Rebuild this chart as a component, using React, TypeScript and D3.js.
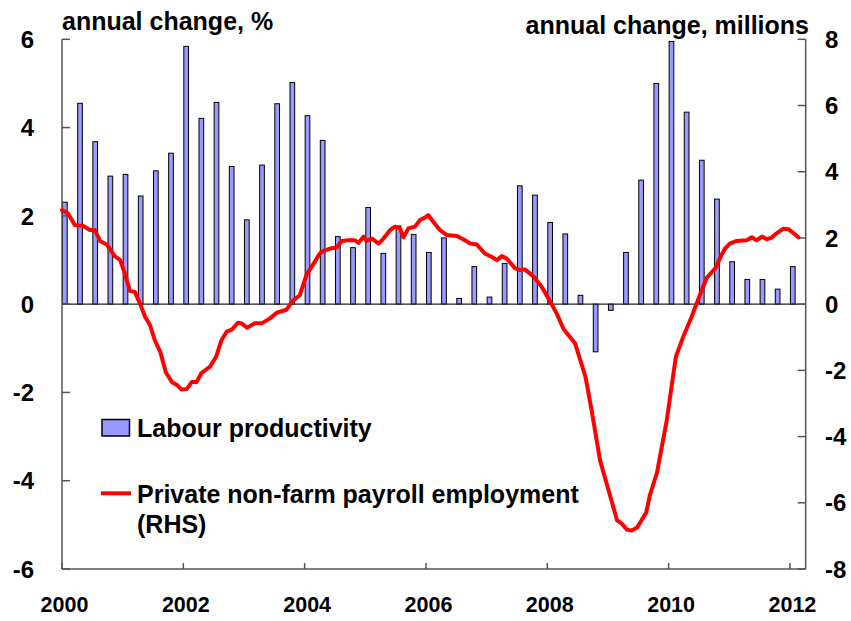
import React from "react";
import * as d3 from "d3";

// Quarterly labour productivity (annual % change), 2000Q1 .. 2012Q1
const productivityStart = 2000;
const productivity: number[] = [
  2.31, 4.55, 3.68, 2.9,
  2.94, 2.45, 3.02, 3.42,
  5.84, 4.21, 4.57, 3.12,
  1.91, 3.15, 4.54, 5.02,
  4.27, 3.71, 1.53, 1.28,
  2.19, 1.15, 1.77, 1.58,
  1.17, 1.5, 0.13, 0.85,
  0.16, 0.92, 2.68, 2.47,
  1.85, 1.59, 0.2, -1.08,
  -0.14, 1.17, 2.81, 5.0,
  5.95, 4.35, 3.26, 2.38,
  0.96, 0.56, 0.56, 0.34,
  0.85,
];

// Private non-farm payroll employment, annual change in millions (RHS)
const employment: [number, number][] = [
  [2000.0, 2.84], [2000.1, 2.74], [2000.21, 2.39], [2000.35, 2.36], [2000.46, 2.24],
  [2000.54, 2.24], [2000.63, 1.9], [2000.74, 1.8], [2000.87, 1.45], [2000.96, 1.33],
  [2001.04, 0.9], [2001.12, 0.4], [2001.2, 0.37], [2001.29, 0.0], [2001.37, -0.38],
  [2001.45, -0.63], [2001.53, -1.09], [2001.62, -1.44], [2001.71, -2.05], [2001.81, -2.35],
  [2001.9, -2.45], [2001.97, -2.58], [2002.06, -2.56], [2002.14, -2.35], [2002.22, -2.35],
  [2002.3, -2.08], [2002.44, -1.89], [2002.54, -1.59], [2002.63, -1.09], [2002.72, -0.82],
  [2002.8, -0.77], [2002.9, -0.56], [2002.96, -0.58], [2003.05, -0.71], [2003.18, -0.58],
  [2003.29, -0.58], [2003.43, -0.43], [2003.54, -0.26], [2003.7, -0.17], [2003.79, 0.07],
  [2003.92, 0.27], [2004.03, 0.88], [2004.14, 1.2], [2004.25, 1.53], [2004.31, 1.61],
  [2004.42, 1.68], [2004.53, 1.71], [2004.61, 1.91], [2004.72, 1.93], [2004.83, 1.93],
  [2004.89, 1.85], [2004.97, 2.04], [2005.02, 1.91], [2005.11, 1.98], [2005.22, 1.83],
  [2005.3, 1.98], [2005.41, 2.24], [2005.49, 2.34], [2005.57, 2.29], [2005.63, 2.02],
  [2005.71, 2.29], [2005.82, 2.34], [2005.9, 2.54], [2005.99, 2.62], [2006.04, 2.69],
  [2006.12, 2.49], [2006.23, 2.24], [2006.34, 2.09], [2006.51, 2.06], [2006.62, 1.95],
  [2006.73, 1.83], [2006.84, 1.8], [2006.97, 1.53], [2007.08, 1.43], [2007.17, 1.33],
  [2007.25, 1.45], [2007.33, 1.38], [2007.47, 1.08], [2007.55, 1.03], [2007.63, 1.05],
  [2007.77, 0.84], [2007.91, 0.52], [2008.05, 0.07], [2008.16, -0.3], [2008.27, -0.76],
  [2008.46, -1.19], [2008.63, -2.2], [2008.73, -3.2], [2008.87, -4.72], [2009.01, -5.62],
  [2009.15, -6.53], [2009.23, -6.63], [2009.31, -6.81], [2009.39, -6.84], [2009.48, -6.75],
  [2009.63, -6.3], [2009.69, -5.78], [2009.81, -5.08], [2009.97, -3.5], [2010.12, -1.59],
  [2010.24, -0.99], [2010.38, -0.38], [2010.52, 0.3], [2010.63, 0.8], [2010.77, 1.08],
  [2010.85, 1.4], [2010.93, 1.68], [2011.01, 1.83], [2011.12, 1.91], [2011.29, 1.93],
  [2011.37, 2.02], [2011.45, 1.93], [2011.54, 2.04], [2011.62, 1.96], [2011.7, 2.01],
  [2011.78, 2.14], [2011.89, 2.28], [2011.98, 2.26], [2012.06, 2.14], [2012.14, 2.02],
];

const xTickYears = [2000, 2002, 2004, 2006, 2008, 2010, 2012];
const leftTicks = [-6, -4, -2, 0, 2, 4, 6];
const rightTicks = [-8, -6, -4, -2, 0, 2, 4, 6, 8];

const leftTitle = "annual change, %";
const rightTitle = "annual change, millions";
const legendBar = "Labour productivity";
const legendLine1 = "Private non-farm payroll employment";
const legendLine2 = "(RHS)";

const W = 851;
const H = 621;
const M = { left: 62, right: 805.7, top: 39.3, bottom: 569 };
const FONT = "'Liberation Sans', Arial, sans-serif";
const AXIS = "#555";
const BAR = "#9999ff";

export default function App() {
  const x = d3.scaleLinear().domain([2000, 2012.26]).range([M.left, M.right]);
  const yL = d3.scaleLinear().domain([-6, 6]).range([M.bottom, M.top]);
  const yR = d3.scaleLinear().domain([-8, 8]).range([M.bottom, M.top]);
  const qW = x(2000.25) - x(2000);
  const barW = qW * 0.31;

  const line = d3
    .line<[number, number]>()
    .x((d) => x(d[0]))
    .y((d) => yR(d[1]));

  return (
    <svg
      width={W}
      height={H}
      style={{ position: "absolute", left: 0, top: 0, display: "block", background: "#fff" }}
      fontFamily={FONT}
      fontWeight="bold"
    >
      {/* bars */}
      {productivity.map((v, i) => {
        const t = productivityStart + i * 0.25;
        const y0 = yL(0);
        const y1 = yL(v);
        return (
          <rect
            key={i}
            x={x(t) + 0.5}
            y={Math.min(y0, y1)}
            width={barW}
            height={Math.abs(y1 - y0)}
            fill={BAR}
            stroke="#000"
            strokeWidth={1}
          />
        );
      })}
      {/* zero line */}
      <line x1={M.left} x2={M.right} y1={yL(0)} y2={yL(0)} stroke="#222" strokeWidth={1.2} />

      {/* left axis */}
      <line x1={M.left} x2={M.left} y1={M.top} y2={M.bottom} stroke={AXIS} strokeWidth={1.5} />
      {leftTicks.map((t) => (
        <g key={"l" + t}>
          <line x1={M.left} x2={M.left + 8} y1={yL(t)} y2={yL(t)} stroke={AXIS} strokeWidth={1.5} />
          <text x={34} y={yL(t)} dy="0.36em" textAnchor="end" fontSize={24} fill="#000">
            {t}
          </text>
        </g>
      ))}
      {/* right axis */}
      <line x1={M.right} x2={M.right} y1={M.top} y2={M.bottom} stroke={AXIS} strokeWidth={1.5} />
      {rightTicks.map((t) => (
        <g key={"r" + t}>
          <line x1={M.right - 8} x2={M.right} y1={yR(t)} y2={yR(t)} stroke={AXIS} strokeWidth={1.5} />
          <text x={825} y={yR(t)} dy="0.36em" textAnchor="start" fontSize={24} fill="#000">
            {t}
          </text>
        </g>
      ))}
      {/* bottom axis */}
      <line x1={M.left} x2={M.right} y1={M.bottom} y2={M.bottom} stroke={AXIS} strokeWidth={1.5} />
      {xTickYears.map((yr) => (
        <g key={"x" + yr}>
          <line x1={x(yr)} x2={x(yr)} y1={M.bottom} y2={M.bottom - 6} stroke={AXIS} strokeWidth={1.5} />
          <text x={x(yr) + 2.5} y={611.5} textAnchor="middle" fontSize={21.5} fill="#000">
            {yr}
          </text>
        </g>
      ))}

      {/* employment line */}
      <path
        d={line(employment) || ""}
        fill="none"
        stroke="#ff0000"
        strokeWidth={4}
        strokeLinejoin="round"
        strokeLinecap="round"
      />

      {/* titles */}
      <text x={62} y={29.5} fontSize={25} fill="#000">
        {leftTitle}
      </text>
      <text x={809} y={34.3} textAnchor="end" fontSize={25} fill="#000">
        {rightTitle}
      </text>

      {/* legend */}
      <rect x={102} y={419.5} width={27.5} height={16.5} fill={BAR} stroke="#000" strokeWidth={1.5} />
      <text x={137} y={436.7} fontSize={25} fill="#000">
        {legendBar}
      </text>
      <line x1={101} x2={131} y1={493.3} y2={493.3} stroke="#ff0000" strokeWidth={4} />
      <text x={137} y={502.7} fontSize={25} fill="#000">
        {legendLine1}
      </text>
      <text x={137} y={533.3} fontSize={25} fill="#000">
        {legendLine2}
      </text>
    </svg>
  );
}
